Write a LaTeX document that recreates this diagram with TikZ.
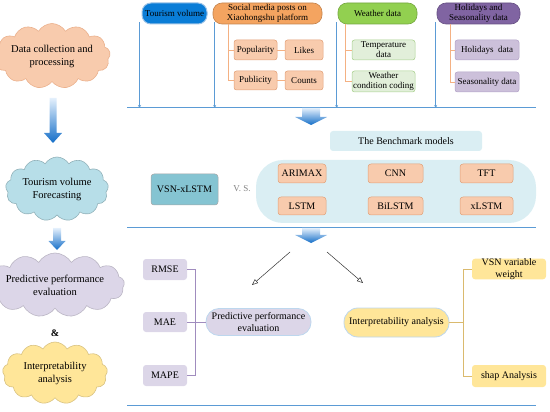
\documentclass[tikz,border=0pt]{standalone}
\usepackage{fontspec}
\setmainfont{Liberation Serif}
\usetikzlibrary{shapes.symbols,arrows.meta,calc}
\definecolor{lineblue}{RGB}{91,155,213}
\definecolor{peach}{RGB}{248,203,173}
\definecolor{peachd}{RGB}{226,160,120}
\definecolor{orangeh}{RGB}{244,164,96}
\definecolor{otree}{RGB}{244,177,131}
\definecolor{bluebox}{RGB}{10,125,215}
\definecolor{greenh}{RGB}{146,208,80}
\definecolor{greenl}{RGB}{226,239,218}
\definecolor{greend}{RGB}{169,208,142}
\definecolor{purph}{RGB}{128,100,162}
\definecolor{purpl}{RGB}{204,192,218}
\definecolor{purpd}{RGB}{178,162,199}
\definecolor{cloudblue}{RGB}{183,222,232}
\definecolor{lav}{RGB}{220,214,232}
\definecolor{lavline}{RGB}{160,140,190}
\definecolor{yel}{RGB}{255,230,153}
\definecolor{ytree}{RGB}{218,186,110}
\definecolor{pale}{RGB}{218,238,243}
\definecolor{teal}{RGB}{133,196,210}
\definecolor{pillline}{RGB}{189,215,238}
\newcommand{\garrow}[5]{%
  \shade[top color={rgb,255:red,228;green,240;blue,252}, bottom color={rgb,255:red,20;green,110;blue,200}]
  let \p1=(#1), \p2=(#2) in
  (\x1-#3pt,\y1) -- (\x1+#3pt,\y1) -- (\x1+#3pt,\y2+#5pt) -- (\x1+#4pt,\y2+#5pt)
  -- (\x1,\y2) -- (\x1-#4pt,\y2+#5pt) -- (\x1-#3pt,\y2+#5pt) -- cycle;}
\begin{document}
\begin{tikzpicture}[x=1pt,y=-1pt,
  every node/.style={inner sep=0pt, align=center},
  fnine/.style={font=\fontsize{9}{10}\selectfont},
  ften/.style={font=\fontsize{10}{11.5}\selectfont},
  cl/.style 2 args={cloud, cloud puffs=13, cloud puff arc=120, cloud ignores aspect,
     fill=#1, draw=#2, line width=0.6pt, font=\fontsize{10.5}{13}\selectfont},
  hd/.style 2 args={rounded corners=9pt, fill=#1, draw=#2, line width=0.6pt, fnine},
  sb/.style 2 args={rounded corners=2.5pt, fill=#1, draw=#2, line width=0.5pt, fnine},
  mb/.style={rounded corners=3pt, fill=peach, draw=peachd, line width=0.5pt, ften},
  bline/.style={draw=lineblue, line width=1pt},
  barrow/.style={draw=lineblue, line width=0.6pt, -{Stealth[length=3pt,width=3pt]}},
  otr/.style={draw=otree, line width=0.8pt},
  thinarrow/.style={draw=black!80, line width=0.5pt, -{Triangle[open,length=6pt,width=5pt]}}
]
\useasboundingbox (0,0) rectangle (550,412);

% ---------- left column ----------
\node[cl={peach}{peachd!60!peach}, minimum width=97pt, minimum height=65pt] (c1) at (52,56) {Data collection and\\processing};
\node[cl={cloudblue}{cloudblue!80!black}, minimum width=103pt, minimum height=64pt] (c2) at (57,189) {Tourism volume\\Forecasting};
\node[cl={lav}{lav!85!black}, minimum width=105pt, minimum height=64pt] (c3) at (55,285) {Predictive performance\\evaluation};
\node[font=\fontsize{10}{11}\selectfont\bfseries] (amp) at (55,333) {\&};
\node[cl={yel}{yel!85!black}, minimum width=105pt, minimum height=62pt] (c4) at (55,373) {Interpretability\\analysis};

\coordinate (a1t) at (53,98);  \coordinate (a1b) at (53,143);
\coordinate (a2t) at (57,228); \coordinate (a2b) at (57,250);
\garrow{a1t}{a1b}{3.5}{9}{10}
\garrow{a2t}{a2b}{4}{8.5}{9}

% ---------- horizontal blue lines ----------
\coordinate (L1w) at (127,108); \coordinate (L1e) at (536,108);
\coordinate (L2w) at (127,228); \coordinate (L2e) at (536,228);
\coordinate (L3w) at (127,405); \coordinate (L3e) at (536,405);
\draw[bline] (L1w) -- (L1e);
\draw[bline] (L2w) -- (L2e);
\draw[bline] (L3w) -- (L3e);

% ---------- top section ----------
\node[hd={bluebox}{lineblue!60!white}, line width=1pt, minimum width=65pt, minimum height=21pt] (h1) at (174.5,13.5) {Tourism volume};
\node[hd={orangeh}{orangeh!80!black}, minimum width=109pt, minimum height=21pt] (h2) at (267.5,13.5) {Social media posts on\\Xiaohongshu platform};
\node[hd={greenh}{greenh!80!black}, minimum width=79pt, minimum height=21pt] (h3) at (377.5,13.5) {Weather data};
\node[hd={purph}{purph!80!black}, minimum width=83pt, minimum height=21pt] (h4) at (478.5,13.5) {Holidays and\\Seasonality data};

\draw[barrow] ([xshift=-2pt,yshift=2pt]h1.south west) -- ([xshift=-2pt]h1.south west |- L1w);
\draw[barrow] ([xshift=2pt,yshift=2pt]h2.south west) -- ([xshift=2pt]h2.south west |- L1w);
\draw[barrow] ([xshift=-1pt,yshift=2pt]h3.south west) -- ([xshift=-1pt]h3.south west |- L1w);
\draw[barrow] ([xshift=-1pt,yshift=2pt]h4.south west) -- ([xshift=-1pt]h4.south west |- L1w);

\node[sb={peach}{peachd}, minimum width=43pt, minimum height=20pt] (pop) at (255.5,50) {Popularity};
\node[sb={peach}{peachd}, minimum width=38pt, minimum height=20pt] (likes) at (304,50) {Likes};
\node[sb={peach}{peachd}, minimum width=43pt, minimum height=19pt] (pub) at (255.5,80.5) {Publicity};
\node[sb={peach}{peachd}, minimum width=38pt, minimum height=19pt] (counts) at (304,80.5) {Counts};
\coordinate (t2) at (228,0);
\draw[otr] (h2.south -| t2) |- (pub.west);
\draw[otr] (pop.west -| t2) -- (pop.west);
\draw[otr] (pop.east) -- (likes.west);
\draw[otr] (pub.east) -- (counts.west);

\node[sb={greenl}{greend}, minimum width=63pt, minimum height=20pt] (temp) at (383.5,50) {Temperature\\data};
\node[sb={greenl}{greend}, minimum width=63pt, minimum height=21pt] (wcc) at (383.5,81.5) {Weather\\condition coding};
\coordinate (t3) at (345,0);
\draw[otr] (h3.south -| t3) |- (wcc.west);
\draw[otr] (temp.west -| t3) -- (temp.west);

\node[sb={purpl}{purpd}, minimum width=64pt, minimum height=20pt] (hol) at (487,50) {Holidays\ \ data};
\node[sb={purpl}{purpd}, minimum width=64pt, minimum height=20pt] (sea) at (487,82) {Seasonality data};
\coordinate (t4) at (450,0);
\draw[otr] (h4.south -| t4) |- (sea.west);
\draw[otr] (hol.west -| t4) -- (hol.west);

% ---------- middle section ----------
\coordinate (b1t) at (311,108); \coordinate (b1b) at (311,125);
\garrow{b1t}{b1b}{9}{16}{8}

\node[rounded corners=3pt, fill=pale, minimum width=152pt, minimum height=20pt, ften] (bench) at (406,141) {The Benchmark models};
\node[rounded corners=3pt, fill=teal, draw=gray!70, line width=0.5pt, minimum width=67pt, minimum height=31pt, ften] (vsn) at (184.5,189.5) {VSN-xLSTM};
\node[fnine, text=gray] (vs) at (242,189) {V. S.};
\node[rounded corners=27pt, fill=pale, minimum width=280pt, minimum height=63pt] (cont) at (396,191.5) {};
\node[mb, minimum width=48pt, minimum height=19pt] (arimax) at (302,173.5) {ARIMAX};
\node[mb, minimum width=55pt, minimum height=19pt] (cnn) at (395.5,173.5) {CNN};
\node[mb, minimum width=53pt, minimum height=19pt] (tft) at (486.5,173.5) {TFT};
\node[mb, minimum width=48pt, minimum height=18pt] (lstm) at (302,206) {LSTM};
\node[mb, minimum width=55pt, minimum height=18pt] (bilstm) at (395.5,206) {BiLSTM};
\node[mb, minimum width=53pt, minimum height=18pt] (xlstm) at (486.5,206) {xLSTM};

% ---------- bottom section ----------
\coordinate (b2t) at (311,228); \coordinate (b2b) at (311,243);
\garrow{b2t}{b2b}{9}{16}{8}

\coordinate (k1s) at (290,252); \coordinate (k1e) at (252,285);
\coordinate (k2s) at (327,252); \coordinate (k2e) at (363,283);
\draw[thinarrow] (k1s) -- (k1e);
\draw[thinarrow] (k2s) -- (k2e);

\node[rounded corners=3pt, fill=lav, minimum width=44pt, minimum height=21pt, ften] (rmse) at (165,269.5) {RMSE};
\node[rounded corners=3pt, fill=lav, minimum width=44pt, minimum height=20pt, ften] (mae) at (165,322) {MAE};
\node[rounded corners=3pt, fill=lav, minimum width=44pt, minimum height=21pt, ften] (mape) at (165,375.5) {MAPE};
\node[rounded corners=13pt, fill=lav, draw=pillline, line width=0.8pt, minimum width=105pt, minimum height=27pt, ften] (pp) at (258.5,322) {Predictive performance\\evaluation};
\coordinate (pt) at (195,0);
\draw[draw=lavline, line width=0.7pt] (rmse.east) -| (pt |- mape.east) -- (mape.east);
\draw[draw=lavline, line width=0.7pt] (mae.east) -- (pp.west);

\node[rounded corners=14pt, fill=yel, draw=pillline, line width=0.8pt, minimum width=105pt, minimum height=29pt, ften] (ia) at (396.5,322.5) {Interpretability analysis};
\node[rounded corners=3pt, fill=yel, minimum width=74pt, minimum height=20pt, ften] (vsw) at (509,269) {VSN variable\\weight};
\node[rounded corners=3pt, fill=yel, minimum width=74pt, minimum height=22pt, ften] (shap) at (509,376) {shap Analysis};
\coordinate (yt) at (463,0);
\draw[draw=ytree, line width=0.8pt] (vsw.west) -| (yt |- shap.west) -- (shap.west);
\draw[draw=ytree, line width=0.8pt] (ia.east) -- (yt |- ia.east);
\end{tikzpicture}
\end{document}
